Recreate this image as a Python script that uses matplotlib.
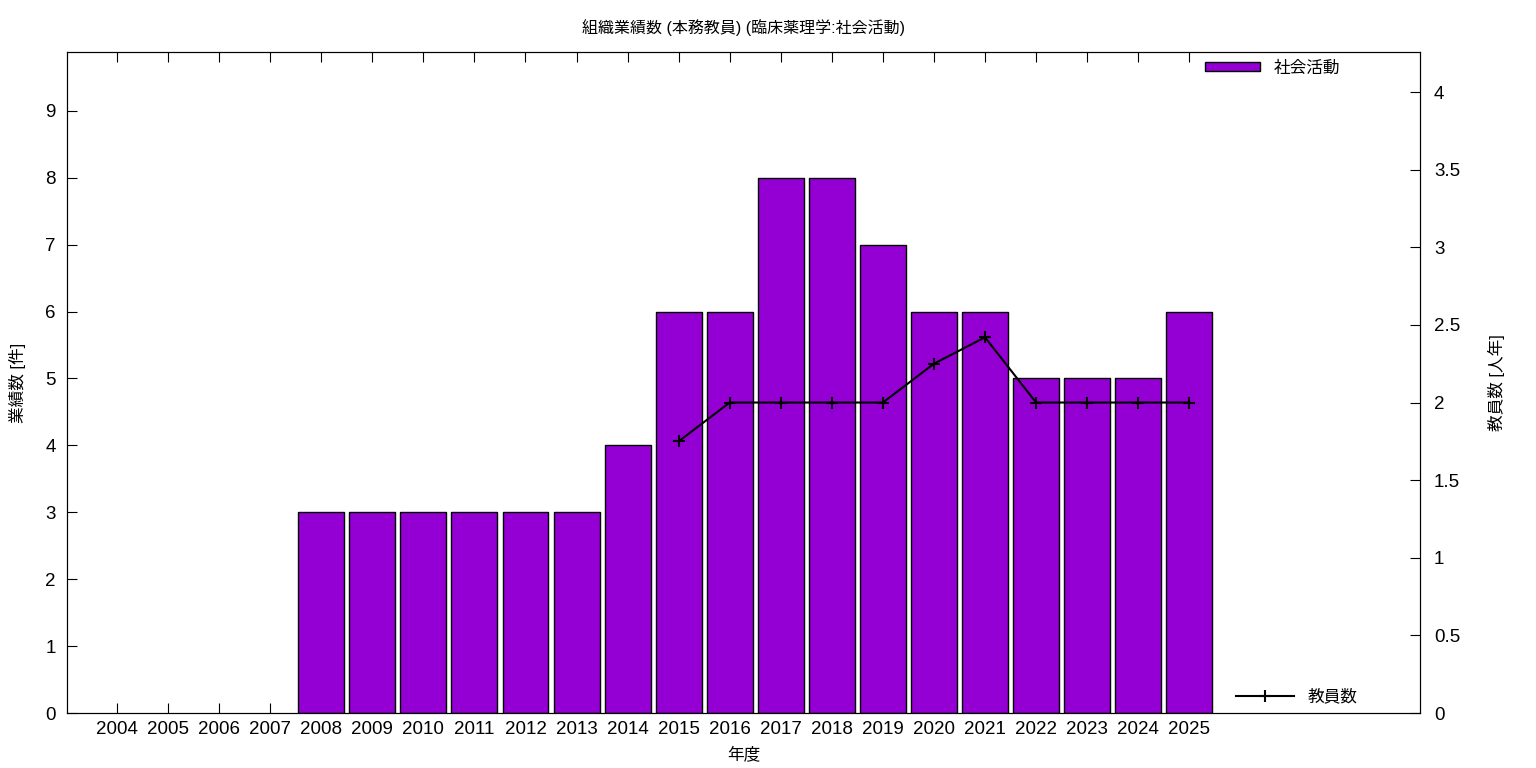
import numpy as np
import matplotlib.pyplot as plt

plt.rcParams['font.family'] = ['Liberation Sans', 'Noto Sans CJK JP']

# データ
years = list(range(2004, 2026))
counts = [0, 0, 0, 0, 3, 3, 3, 3, 3, 3, 4, 6, 6, 8, 8, 7, 6, 6, 5, 5, 5, 6]
staff_years = [2015, 2016, 2017, 2018, 2019, 2020, 2021, 2022, 2023, 2024, 2025]
staff = [1.75, 2.0, 2.0, 2.0, 2.0, 2.25, 2.42, 2.0, 2.0, 2.0, 2.0]

x = np.arange(len(years))
xs = [years.index(y) for y in staff_years]
nz = [i for i, c in enumerate(counts) if c > 0]  # 0件の年は棒を描かない

fig = plt.figure(figsize=(15.36, 7.68), dpi=100)
ax = fig.add_axes([0.0436, 0.0716, 0.8809, 0.8607])
ax2 = ax.twinx()

ax.bar([x[i] for i in nz], [counts[i] for i in nz], width=0.9, color='#9400D3',
       edgecolor='black', linewidth=1, label='社会活動', zorder=2)
ax2.plot(xs, staff, 'k-', marker='+', markersize=9, markeredgewidth=1.5,
         linewidth=1.5, label='教員数', zorder=3)

ax.set_xlim(-0.98, 25.52)
ax.set_ylim(0, 9.88)
ax2.set_ylim(0, 4.258)
ax.set_xticks(x)
ax.set_xticklabels([str(y) for y in years])
ax.set_yticks(range(0, 10))
ax2.set_yticks([0, 0.5, 1, 1.5, 2, 2.5, 3, 3.5, 4])
ax2.set_yticklabels(['0', '0.5', '1', '1.5', '2', '2.5', '3', '3.5', '4'])

ax.tick_params(axis='x', direction='in', top=True, length=7, labelsize=13.5, pad=6)
ax.tick_params(axis='y', direction='in', length=7, labelsize=13.5, pad=8)
ax2.tick_params(axis='y', direction='in', length=7, labelsize=13.5, pad=10)

ax.set_xlabel('年度', fontsize=12, labelpad=6)
ax.set_ylabel('業績数 [件]', fontsize=12, labelpad=14)
ax2.set_ylabel('教員数 [人年]', fontsize=12, rotation=90, labelpad=20)
ax.set_title('組織業績数 (本務教員) (臨床薬理学:社会活動)', fontsize=11.5, pad=14)

ax.legend(loc='upper right', bbox_to_anchor=(0.952, 1.01), frameon=False,
          fontsize=12, handlelength=3.3, handleheight=0.5)
ax2.legend(loc='lower right', bbox_to_anchor=(0.965, -0.01), frameon=False,
           fontsize=12, handlelength=3.5)

fig.savefig('out.png', dpi=100)
